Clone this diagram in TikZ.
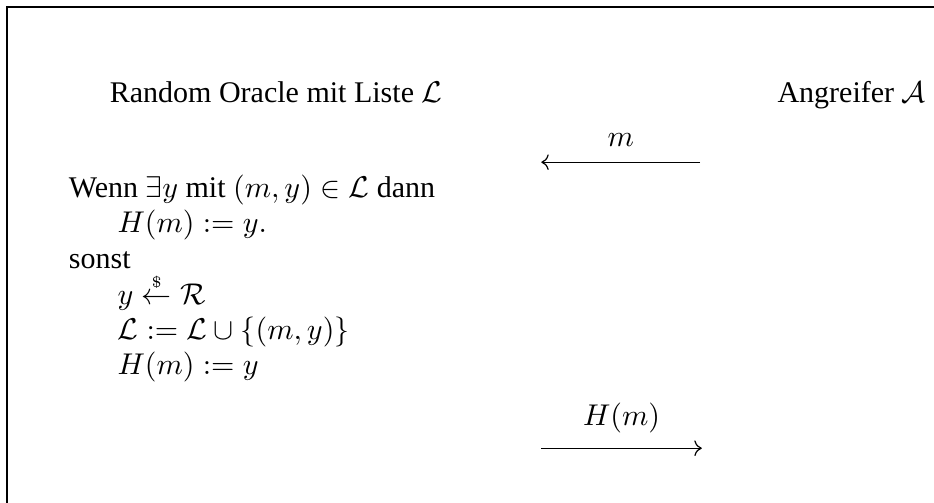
\documentclass[tikz,border=0pt]{standalone}
\usepackage{amsmath,amssymb}
\usepackage[no-math]{fontspec}
\setmainfont{Liberation Serif}
\usetikzlibrary{positioning,arrows.meta}
\tikzset{
  ro txt/.style={anchor=base west, inner sep=0pt},
  ro lab/.style={anchor=base, inner sep=0pt},
  ro arr/.style={-{Computer Modern Rightarrow}, line width=0.4pt},
}

\begin{document}
\begin{tikzpicture}[x=1cm, y=1cm]
  \useasboundingbox (0,0) rectangle (10.94,5.88);
  % frame, cut by the page edge
  \draw[line width=0.5pt] (0.08,-1) |- (12,5.80);
  % headers
  \node[ro txt] (oracle) at (1.28,4.68) {Random Oracle mit Liste $\mathcal{L}$};
  \node[ro txt] (adv) at (9.10,4.68) {Angreifer $\mathcal{A}$};
  % query
  \coordinate (qR) at (8.20,3.98);
  \coordinate (qL) at (6.34,3.98);
  \draw[ro arr] (qR) -- (qL);
  \node[ro lab] (qlab) at (7.27,4.16) {$m$};
  % oracle program
  \node[ro txt] (l1) at (0.80,3.57) {Wenn $\exists y$ mit $(m,y)\in\mathcal{L}$ dann};
  \node[ro txt] (l2) at (1.37,3.16) {$H(m) := y.$};
  \node[ro txt] (l3) at (0.80,2.74) {sonst};
  \node[ro txt] (l4) at (1.37,2.31) {$y \stackrel{\scriptscriptstyle\$}{\leftarrow} \mathcal{R}$};
  \node[ro txt] (l5) at (1.37,1.90) {$\mathcal{L} := \mathcal{L}\cup\{(m,y)\}$};
  \node[ro txt] (l6) at (1.37,1.49) {$H(m) := y$};
  % answer
  \coordinate (aL) at (6.34,0.63);
  \coordinate (aR) at (8.22,0.63);
  \draw[ro arr] (aL) -- (aR);
  \node[ro lab] (alab) at (7.28,0.90) {$H(m)$};
\end{tikzpicture}
\end{document}
